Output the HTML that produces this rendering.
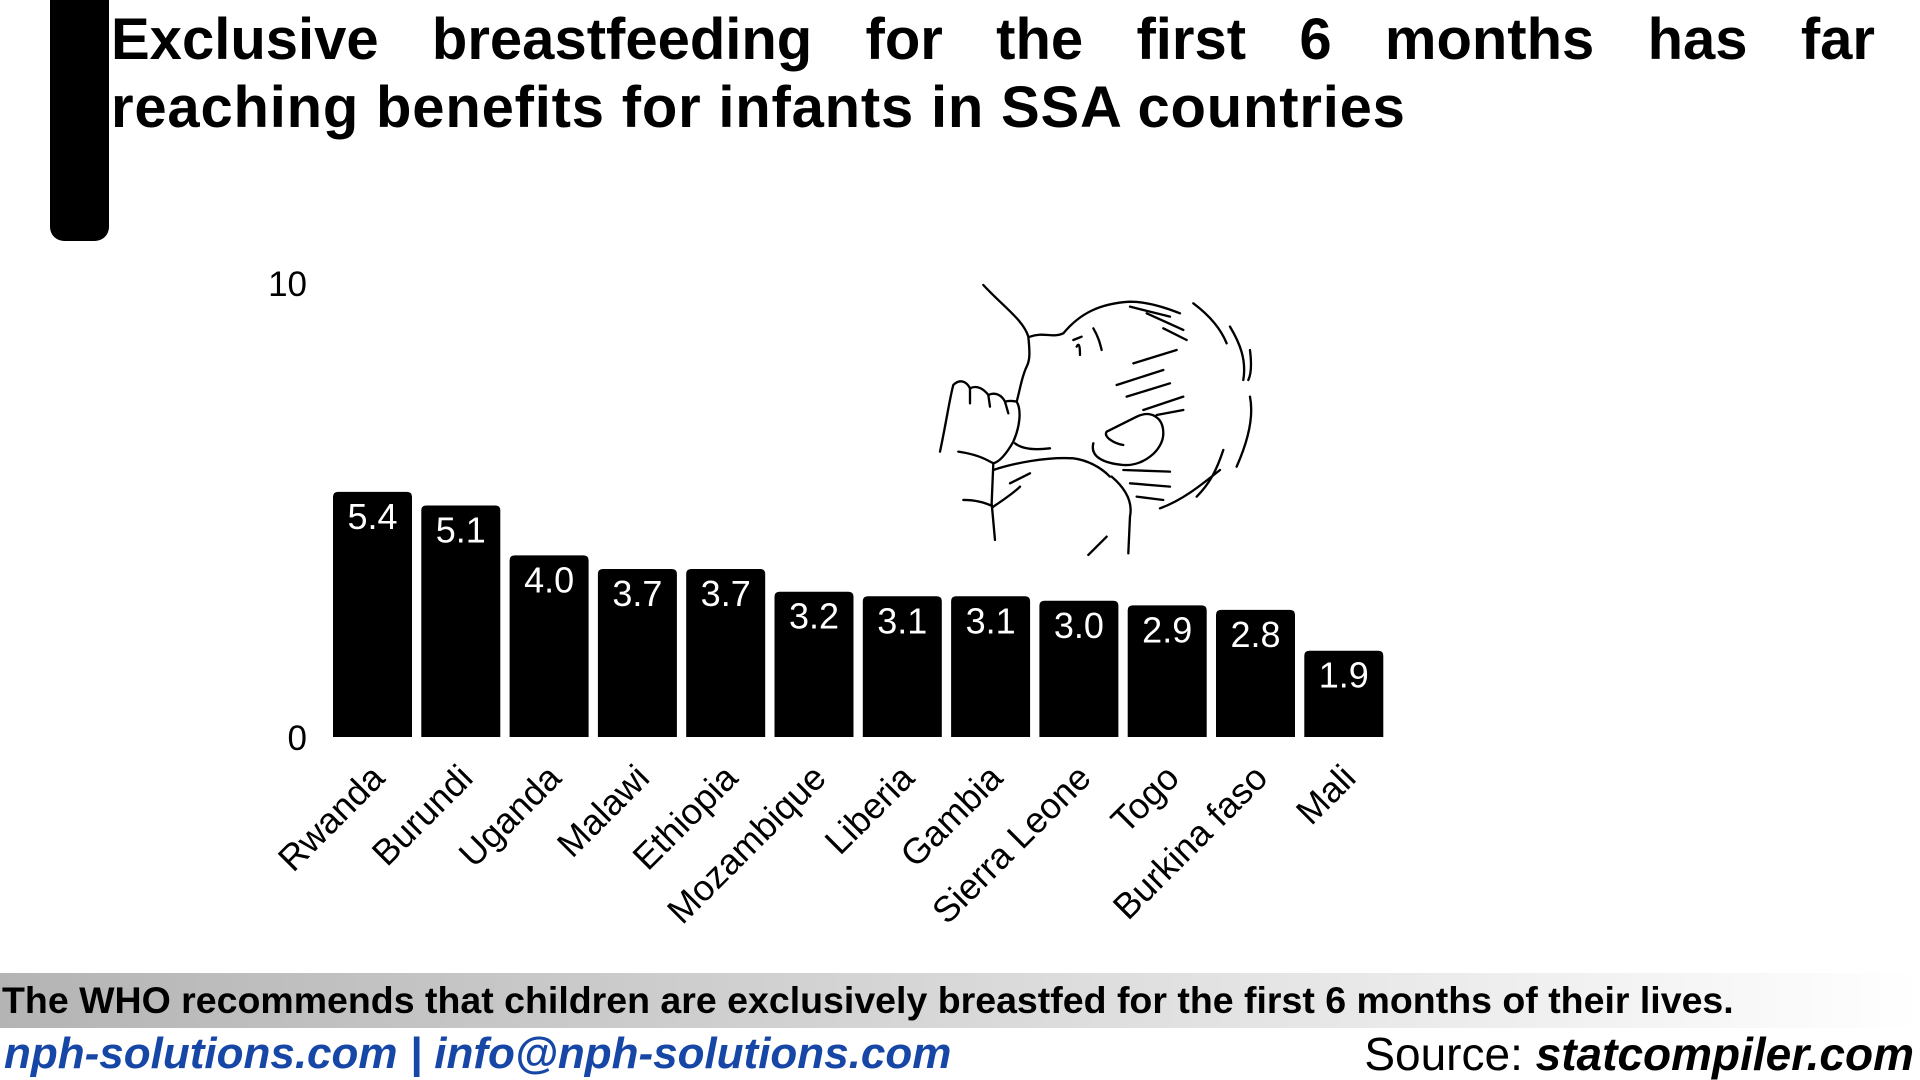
<!DOCTYPE html>
<html><head><meta charset="utf-8"><style>
body{margin:0;width:1920px;height:1080px;background:#fff;overflow:hidden;position:relative;font-family:"Liberation Sans",sans-serif}
#accent{position:absolute;left:50px;top:-20px;width:59px;height:261px;background:#000;border-radius:14px}
#title{position:absolute;left:111px;top:6px;width:1764px;font-weight:bold;font-size:58px;line-height:68px;color:#000;margin:0}
#title .l1{display:block;text-align:justify;text-align-last:justify}
#title .l2{display:block;letter-spacing:0.8px}
#band{position:absolute;left:0;top:973px;width:1920px;height:55px;background:linear-gradient(90deg,#b4b4b4 0%,#d8d8d8 50%,#ffffff 100%)}
#note{position:absolute;left:2px;top:977px;font-weight:bold;font-size:37.5px;line-height:46px;white-space:nowrap}
#links{position:absolute;left:4px;top:1030px;font-weight:bold;font-style:italic;font-size:44px;color:#1747a6;white-space:nowrap;line-height:48px}
#source{position:absolute;right:6px;top:1030px;font-size:46px;white-space:nowrap;line-height:48px}
#source b{font-style:italic}
svg{position:absolute;left:0;top:0}
</style></head><body>
<div id="accent"></div>
<h1 id="title"><span class="l1">Exclusive breastfeeding for the first 6 months has far</span><span class="l2">reaching benefits for infants in SSA countries</span></h1>
<svg id="chart" width="1920" height="1080">
<g transform="translate(930,270) scale(0.3333)" fill="none" stroke="#000" stroke-width="7" stroke-linecap="round">
<path d="M160 45 C220 110 280 150 295 200 C300 250 300 270 290 290 C275 320 270 360 260 395"/>
<path d="M300 200 C340 185 370 205 400 190 C450 130 510 100 600 95 C650 95 700 110 750 130"/>
<path d="M430 210 L455 200 M440 230 C445 220 450 220 450 255 M490 175 C505 200 510 220 515 240"/>
<path d="M260 395 C275 420 270 470 250 515 C230 550 210 575 190 580 C170 570 150 555 85 545"/>
<path d="M30 545 C50 450 60 380 70 345 C90 325 110 335 120 355 C140 345 160 355 175 375 C195 365 215 375 225 395 C240 390 260 395 260 395"/>
<path d="M120 355 L120 400 M175 375 L180 410 M225 395 L235 430"/>
<path d="M255 520 C280 540 320 540 360 535 M190 600 C250 580 350 560 430 565 C470 570 510 590 540 620"/>
<path d="M190 580 L185 700 L195 810 M100 690 C140 690 170 700 190 710 C220 690 250 670 270 650 M240 640 L300 610"/>
<path d="M545 620 C580 650 610 690 600 740 L595 850 M530 800 L475 855"/>
<path d="M490 520 C480 560 520 580 580 585 C640 590 700 540 700 490 C700 440 660 420 620 440 C590 455 560 470 530 485 C520 500 550 520 580 525"/>
<path d="M580 600 L720 605 M600 640 L720 650 M620 680 L700 690 M690 715 C760 690 820 640 870 600"/>
<path d="M600 110 L720 140 M650 130 L760 180 M700 175 L770 210 M610 280 L740 240 M560 345 L700 300 M590 380 L720 340 M640 420 L760 380 M680 435 L760 420"/>
<path d="M790 100 C830 130 870 170 890 220 M900 170 C930 220 950 270 940 330 M960 240 C965 280 965 310 955 330 M960 380 C970 430 960 500 920 590 M880 540 C860 600 840 640 800 680"/>
</g>
<g id="axis"></g>
<g id="bars"></g>
<g id="xlabels"></g>
</svg>
<div id="band"></div>
<div id="note">The WHO recommends that children are exclusively breastfed for the first 6 months of their lives.</div>
<div id="links">nph-solutions.com | info@nph-solutions.com</div>
<div id="source">Source: <b>statcompiler.com</b></div>
<script>
const categories=["Rwanda","Burundi","Uganda","Malawi","Ethiopia","Mozambique","Liberia","Gambia","Sierra Leone","Togo","Burkina faso","Mali"];
const values=[5.4,5.1,4.0,3.7,3.7,3.2,3.1,3.1,3.0,2.9,2.8,1.9];
const valueLabels=["5.4","5.1","4.0","3.7","3.7","3.2","3.1","3.1","3.0","2.9","2.8","1.9"];
const yTicks=[0,10];
const NS="http://www.w3.org/2000/svg";
const x0=333,pitch=88.3,bw=79,base=737,top10=283;
function yScale(v){return base-(base-top10)*v/10;}
function xScale(i){return x0+i*pitch;}
function mk(t,a,parent){const e=document.createElementNS(NS,t);for(const k in a)e.setAttribute(k,a[k]);parent.appendChild(e);return e;}
const axis=document.getElementById('axis'),bars=document.getElementById('bars'),xl=document.getElementById('xlabels');
yTicks.forEach(t=>{
  const e=mk('text',{x:307,y:yScale(t)+13,'text-anchor':'end','font-size':35,fill:'#000','font-family':'Liberation Sans'},axis);
  e.textContent=t;
  
  
});
values.forEach((v,i)=>{
  const x=xScale(i),y=yScale(v);
  const r=mk('path',{d:`M${x} ${base} L${x} ${y+5} Q${x} ${y} ${x+5} ${y} L${x+bw-5} ${y} Q${x+bw} ${y} ${x+bw} ${y+5} L${x+bw} ${base} Z`,fill:'#000'},bars);
  
  
  const t=mk('text',{x:x+bw/2,y:y+37,'text-anchor':'middle','font-size':36,fill:'#fff','font-family':'Liberation Sans'},bars);
  t.textContent=valueLabels[i];
  
  
  const cx=x+bw/2+14,cy=780;
  const l=mk('text',{x:cx,y:cy,'text-anchor':'end','font-size':36,fill:'#000','font-family':'Liberation Sans',transform:`rotate(-45 ${cx} ${cy})`},xl);
  l.textContent=categories[i];
  
  
});
</script>
</body></html>
